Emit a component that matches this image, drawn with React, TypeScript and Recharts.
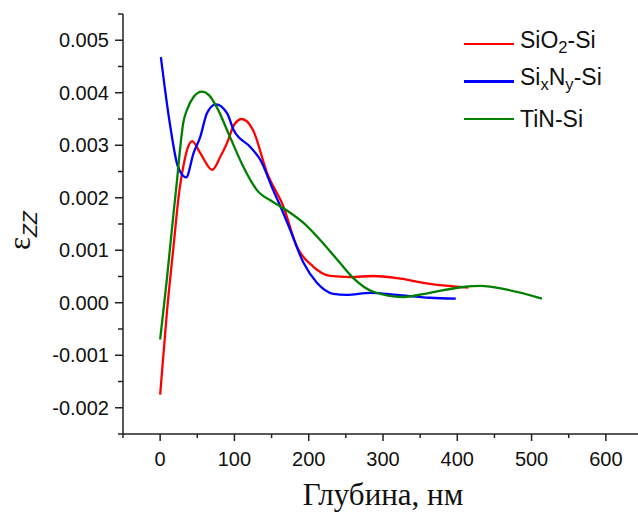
import { LineChart, Line, XAxis, YAxis } from "recharts"

// SiO2-Si
const sio2Depth = [0, 9, 18, 26, 31, 36, 43, 54, 70, 81, 90, 100, 110, 125, 144, 166, 184, 206, 229, 256, 287, 319, 363, 415]
const sio2Strain = [-0.00175, -0.0002, 0.00107, 0.00215, 0.00258, 0.0029, 0.00308, 0.00285, 0.00253, 0.00278, 0.00304, 0.0034, 0.0035, 0.00329, 0.00247, 0.00183, 0.00107, 0.00069, 0.00051, 0.00049, 0.00051, 0.00047, 0.00036, 0.00029]

// SixNy-Si
const sinDepth = [1, 13, 24, 35, 45, 54, 63, 75, 90, 99, 121, 135, 152, 163, 175, 193, 211, 233, 251, 283, 319, 363, 398]
const sinStrain = [0.00468, 0.00342, 0.00259, 0.00239, 0.00285, 0.00316, 0.00361, 0.00378, 0.00361, 0.00329, 0.00297, 0.00272, 0.00215, 0.0018, 0.00139, 0.00076, 0.00038, 0.00017, 0.00015, 0.00019, 0.00015, 0.000095, 0.00008]

// TiN-Si
const tinDepth = [0, 9, 18, 22.5, 27, 31, 36, 45, 56, 66, 76, 94, 112, 130, 152, 166, 193, 219, 242, 260, 287, 327, 363, 408, 431, 467, 514]
const tinStrain = [-0.0007, 0.00044, 0.0017, 0.0023, 0.00295, 0.00342, 0.00367, 0.00392, 0.00402, 0.00395, 0.00373, 0.00316, 0.00259, 0.00215, 0.00192, 0.0018, 0.00152, 0.00114, 0.00076, 0.00047, 0.00021, 0.00011, 0.00019, 0.0003, 0.00032, 0.00025, 0.00008]

const xTicks = [-50, 0, 50, 100, 150, 200, 250, 300, 350, 400, 450, 500, 550, 600, 650]
const yTicks = [-0.0025, -0.002, -0.0015, -0.001, -0.0005, 0, 0.0005, 0.001, 0.0015, 0.002, 0.0025, 0.003, 0.0035, 0.004, 0.0045, 0.005, 0.0055]

const zip = (xs: number[], ys: number[]) => xs.map((x, i) => ({ x, y: ys[i] }))

const series = [
  { name: "SiO2-Si", color: "#ff0000", data: zip(sio2Depth, sio2Strain) },
  { name: "SixNy-Si", color: "#0000ff", data: zip(sinDepth, sinStrain) },
  { name: "TiN-Si", color: "#008000", data: zip(tinDepth, tinStrain) },
]

const sans = "'Liberation Sans', Arial, sans-serif"
const serif = "'Liberation Serif', 'Times New Roman', serif"
const axisColor = "#222"

const YTick = ({ x, y, payload }: any) => {
  const v = payload.value
  const major = Math.abs(Math.round(v * 10000)) % 10 === 0
  return (
    <g>
      <line x1={x - (major ? 8 : 5)} x2={x} y1={y} y2={y} stroke={axisColor} strokeWidth={1.5} />
      {major && (
        <text x={x - 14} y={y} dy="0.36em" textAnchor="end" fontSize={20} fontFamily={sans} fill="#111">
          {v.toFixed(3)}
        </text>
      )}
    </g>
  )
}

const XTick = ({ x, y, payload }: any) => {
  const v = payload.value
  const major = v % 100 === 0
  return (
    <g>
      <line x1={x} x2={x} y1={y} y2={y + (major ? 7 : 4)} stroke={axisColor} strokeWidth={1.5} />
      {major && (
        <text x={x} y={y + 32} textAnchor="middle" fontSize={20} fontFamily={sans} fill="#111">
          {v}
        </text>
      )}
    </g>
  )
}

const sub = { fontSize: "0.72em", verticalAlign: "-0.32em" }

const legendLabels = [
  <span>SiO<span style={sub}>2</span>-Si</span>,
  <span>Si<span style={sub}>x</span>N<span style={sub}>y</span>-Si</span>,
  <span>TiN-Si</span>,
]

export default function App() {
  return (
    <div style={{ position: "absolute", left: 0, top: 0, width: 638, height: 513, overflow: "hidden", background: "#fff" }}>
      <LineChart width={660} height={513} margin={{ top: 14, right: 17, bottom: 0, left: 0 }}>
        <XAxis
          type="number"
          dataKey="x"
          domain={[-50, 650]}
          ticks={xTicks}
          interval={0}
          allowDataOverflow
          height={79}
          tickSize={0}
          tickMargin={0}
          tickLine={false}
          axisLine={{ stroke: axisColor, strokeWidth: 1.5 }}
          tick={<XTick />}
        />
        <YAxis
          type="number"
          dataKey="y"
          domain={[-0.0025, 0.0055]}
          ticks={yTicks}
          interval={0}
          allowDataOverflow
          width={123}
          tickSize={0}
          tickMargin={0}
          tickLine={false}
          axisLine={{ stroke: axisColor, strokeWidth: 1.5 }}
          tick={<YTick />}
        />
        {series.map((s) => (
          <Line
            key={s.name}
            data={s.data}
            dataKey="y"
            type="monotone"
            stroke={s.color}
            strokeWidth={2.3}
            dot={false}
            isAnimationActive={false}
          />
        ))}
      </LineChart>

      <svg width={60} height={513} style={{ position: "absolute", left: 0, top: 0 }}>
        <text transform="rotate(-90, 30, 250)" x={30} y={250} fill="#111">
          <tspan fontFamily={serif} fontSize={31}>ε</tspan>
          <tspan fontFamily={sans} fontStyle="italic" fontSize={21} dy={7}>ZZ</tspan>
        </text>
      </svg>

      <div
        style={{
          position: "absolute",
          left: 123,
          width: 520,
          top: 480,
          textAlign: "center",
          fontFamily: serif,
          fontSize: 31,
          lineHeight: "30px",
          color: "#111",
        }}
      >
        Глубина, нм
      </div>

      {series.map((s, i) => (
        <div
          key={s.name}
          style={{ position: "absolute", left: 464, top: 44 + i * 37.5 - 15, height: 30, display: "flex", alignItems: "center" }}
        >
          <div style={{ width: 50, height: 2.5, background: s.color }} />
          <div style={{ marginLeft: 6, fontFamily: sans, fontSize: 23, color: "#111", lineHeight: "30px", whiteSpace: "nowrap" }}>
            {legendLabels[i]}
          </div>
        </div>
      ))}
    </div>
  )
}
